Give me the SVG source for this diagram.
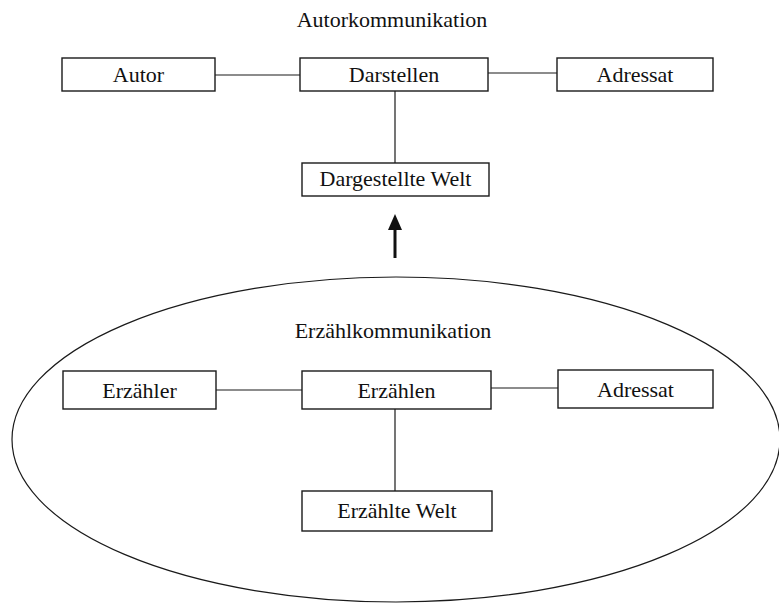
<svg xmlns="http://www.w3.org/2000/svg" width="779" height="603" viewBox="0 0 779 603">
  <style>
    .box { fill: #fff; stroke: #1a1a1a; stroke-width: 1.4; }
    .lbl { font-family: "Liberation Serif", "DejaVu Serif", serif; font-size: 22px; fill: #111; text-anchor: middle; }
    .ttl { font-family: "Liberation Serif", "DejaVu Serif", serif; font-size: 22px; fill: #111; text-anchor: middle; }
    .link { stroke: #1a1a1a; stroke-width: 1.2; fill: none; }
  </style>
  <defs>
    <!-- solid arrowhead, drawn along +x so orient="auto" turns it with the line -->
    <marker id="head" viewBox="0 0 16 14" refX="0" refY="7" markerWidth="16" markerHeight="14" markerUnits="userSpaceOnUse" orient="auto">
      <path d="M0,0 L16,7 L0,14 Z" fill="#111"/>
    </marker>
  </defs>
  <rect width="779" height="603" fill="#fff"/>

  <!-- narrative frame -->
  <ellipse id="frame" cx="396" cy="439.5" rx="384" ry="162.5" fill="none" stroke="#1a1a1a" stroke-width="1.2"/>

  <!-- section titles -->
  <text class="ttl" x="392" y="27">Autorkommunikation</text>
  <text class="ttl" x="393" y="338">Erzählkommunikation</text>

  <!-- connectors -->
  <g id="connectors">
    <line class="link" x1="215" y1="75" x2="300" y2="75"/>
    <line class="link" x1="488" y1="73" x2="557" y2="73"/>
    <line class="link" x1="395" y1="91" x2="395" y2="163"/>
    <line class="link" x1="216" y1="390" x2="302" y2="390"/>
    <line class="link" x1="491" y1="388" x2="558" y2="388"/>
    <line class="link" x1="395" y1="409" x2="395" y2="491"/>
    <line x1="395" y1="258" x2="395" y2="230" stroke="#111" stroke-width="3" marker-end="url(#head)"/>
  </g>

  <!-- author level -->
  <g id="autor">
    <rect class="box" x="62" y="58" width="153" height="33"/>
    <text class="lbl" x="138.5" y="82">Autor</text>
  </g>
  <g id="darstellen">
    <rect class="box" x="300" y="58" width="188" height="33"/>
    <text class="lbl" x="394" y="82">Darstellen</text>
  </g>
  <g id="adressat-autor">
    <rect class="box" x="557" y="58" width="156" height="33"/>
    <text class="lbl" x="635" y="82">Adressat</text>
  </g>
  <g id="dargestellte-welt">
    <rect class="box" x="302" y="163" width="187" height="33"/>
    <text class="lbl" x="395.5" y="186">Dargestellte Welt</text>
  </g>

  <!-- narrator level -->
  <g id="erzaehler">
    <rect class="box" x="63" y="371" width="153" height="38"/>
    <text class="lbl" x="139.5" y="398">Erzähler</text>
  </g>
  <g id="erzaehlen">
    <rect class="box" x="302" y="371" width="189" height="38"/>
    <text class="lbl" x="396.5" y="398">Erzählen</text>
  </g>
  <g id="adressat-erzaehler">
    <rect class="box" x="558" y="370" width="155" height="38"/>
    <text class="lbl" x="635.5" y="397">Adressat</text>
  </g>
  <g id="erzaehlte-welt">
    <rect class="box" x="302" y="491" width="190" height="40"/>
    <text class="lbl" x="397" y="518">Erzählte Welt</text>
  </g>
</svg>
